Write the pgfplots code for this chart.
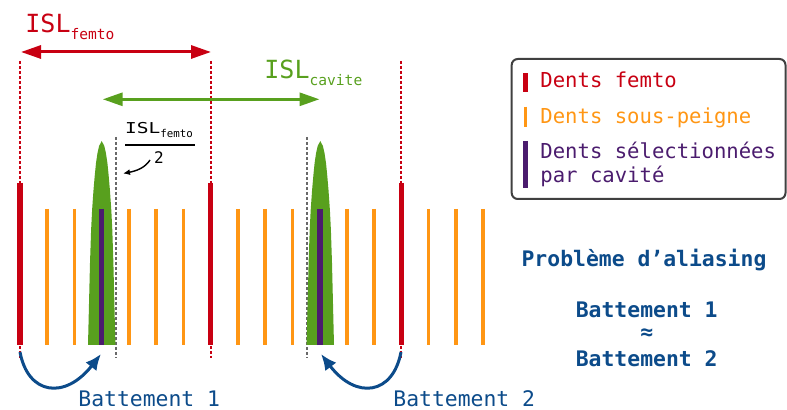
\documentclass[border=0pt]{standalone}
\usepackage{pgfplots}
\pgfplotsset{compat=1.18}
\usepackage{fontspec}
\usepackage{amsmath}
\usetikzlibrary{arrows.meta}
\setmainfont{DejaVu Sans Mono}

\definecolor{cred}{RGB}{200,0,18}
\definecolor{corange}{RGB}{255,150,20}
\definecolor{cpurple}{RGB}{75,28,110}
\definecolor{cgreen}{RGB}{88,160,30}
\definecolor{cblue}{RGB}{12,75,138}
\definecolor{cgray}{RGB}{105,105,105}
\definecolor{cbox}{RGB}{64,64,64}

\begin{document}
\begin{tikzpicture}
\begin{axis}[
    name=ax,
    x=0.5pt, y=0.5pt,
    xmin=0, xmax=787, ymin=0, ymax=410,
    y dir=reverse,
    hide axis,
    clip=false,
    unbounded coords=jump,
]
% reperes pointilles
\addplot[cred, line width=1pt, dash pattern=on 1.5pt off 1pt] coordinates {
    (20,61) (20,358) (20,nan)
    (210.7,61) (210.7,358) (210.7,nan)
    (401.4,61) (401.4,358)
};
\addplot[cgray, line width=1pt, dash pattern=on 1.5pt off 1pt] coordinates {
    (115.7,137) (115.7,358) (115.7,nan)
    (306.7,137) (306.7,358)
};
% dents du sous-peigne
\addplot[corange, line width=1.85pt] coordinates {
    (47.2,209) (47.2,345) (47.2,nan)
    (74.5,209) (74.5,345) (74.5,nan)
    (129.0,209) (129.0,345) (129.0,nan)
    (156.2,209) (156.2,345) (156.2,nan)
    (183.4,209) (183.4,345) (183.4,nan)
    (237.9,209) (237.9,345) (237.9,nan)
    (265.2,209) (265.2,345) (265.2,nan)
    (292.4,209) (292.4,345) (292.4,nan)
    (346.9,209) (346.9,345) (346.9,nan)
    (374.1,209) (374.1,345) (374.1,nan)
    (428.6,209) (428.6,345) (428.6,nan)
    (455.8,209) (455.8,345) (455.8,nan)
    (483.1,209) (483.1,345)
};
% dents femto
\addplot[cred, line width=2.65pt] coordinates {
    (20,183) (20,345) (20,nan)
    (210.7,183) (210.7,345) (210.7,nan)
    (401.4,183) (401.4,345)
};
% modes de la cavite
\addplot[fill=cgreen, draw=none] coordinates {
    (88.0,345) (89.1,300) (90.0,263) (91.1,230) (92.1,210) (93.5,190) (94.8,175)
    (96.0,163) (97.5,153) (99.1,146) (101.7,141) (104.3,146) (105.9,153) (107.4,163)
    (108.6,175) (109.9,190) (111.3,210) (112.3,230) (113.4,263) (114.3,300) (115.4,345)
} -- cycle;
\addplot[fill=cgreen, draw=none] coordinates {
    (306.6,345) (307.7,300) (308.6,263) (309.7,230) (310.7,210) (312.1,190) (313.4,175)
    (314.6,163) (316.1,153) (317.7,146) (320.3,141) (322.9,146) (324.5,153) (326.0,163)
    (327.2,175) (328.5,190) (329.9,210) (330.9,230) (332.0,263) (332.9,300) (334.0,345)
} -- cycle;
% dents selectionnees
\addplot[cpurple, line width=2.75pt] coordinates {
    (101.7,209) (101.7,345) (101.7,nan)
    (319.9,209) (319.9,345)
};

% fleches ISL
\draw[cred, line width=1.5pt, {Triangle[length=10pt,width=6.5pt]}-{Triangle[length=10pt,width=6.5pt]}]
    (21,52) -- (211,52);
\node[cred, anchor=base west, inner sep=0] at (25,32.3)
    {\fontsize{12.5}{14}\selectfont ISL\raisebox{-3.5pt}{\fontsize{7.3}{8}\selectfont femto}};
\draw[cgreen, line width=1.5pt, {Triangle[length=10pt,width=6.5pt]}-{Triangle[length=10pt,width=6.5pt]}]
    (102.7,99.3) -- (319.5,99.3);
\node[cgreen, anchor=base west, inner sep=0] at (264,78.3)
    {\fontsize{12.5}{14}\selectfont ISL\raisebox{-3.5pt}{\fontsize{7.3}{8}\selectfont cavite}};

% ISL_femto / 2
\draw[black, line width=0.65pt] (125,145) -- (195,145);
\node[anchor=base, inner sep=0] at (159,133.3)
    {\scalebox{1.3}[1]{\fontsize{7.5}{9}\selectfont ISL}\raisebox{-2pt}{\fontsize{5.4}{6}\selectfont femto}};
\node[anchor=base, inner sep=0] at (159,163.3) {\fontsize{8}{9}\selectfont 2};
\draw[black, line width=0.7pt, -{Latex[length=3.5pt,width=3pt]}]
    (150,160) .. controls (145,168) and (136,171) .. (123,173.5);

% battements
\draw[cblue, line width=1.5pt, -{Latex[length=8pt,width=7pt]}]
    (20,352) .. controls (28,395) and (65,400) .. (101,354);
\draw[cblue, line width=1.5pt, -{Latex[length=8pt,width=7pt]}]
    (401,352) .. controls (393,395) and (356,400) .. (321,354);
\node[cblue, anchor=base west, inner sep=0] at (78,407)
    {\fontsize{10.7}{12}\selectfont Battement 1};
\node[cblue, anchor=base west, inner sep=0] at (393,407)
    {\fontsize{10.7}{12}\selectfont Battement 2};

% legende
\draw[cbox, line width=1pt, rounded corners=3pt] (511.7,59) rectangle (785.5,199);
\draw[cred, line width=2.4pt] (525.3,73.3) -- (525.3,92.3);
\draw[corange, line width=1.6pt] (525.3,106.7) -- (525.3,126.7);
\draw[cpurple, line width=2.5pt] (525.3,141) -- (525.3,187.7);
\node[cred, anchor=base west, inner sep=0] at (540,87.7)
    {\fontsize{10.3}{12}\selectfont Dents femto};
\node[corange, anchor=base west, inner sep=0] at (540,123.3)
    {\fontsize{10.3}{12}\selectfont Dents sous-peigne};
\node[cpurple, anchor=base west, inner sep=0] at (540,158.3)
    {\fontsize{10.3}{12}\selectfont Dents sélectionnées};
\node[cpurple, anchor=base west, inner sep=0] at (540,183)
    {\fontsize{10.3}{12}\selectfont par cavité};

% conclusion
\node[cblue, anchor=base, inner sep=0] at (644,266.7)
    {\fontsize{10.7}{12}\selectfont\bfseries Problème d’aliasing};
\node[cblue, anchor=base, inner sep=0] at (646.7,318)
    {\fontsize{10.7}{12}\selectfont\bfseries Battement 1};
\node[cblue, anchor=base, inner sep=0] at (646.7,340)
    {\fontsize{10.7}{12}\selectfont\bfseries ≈};
\node[cblue, anchor=base, inner sep=0] at (646.7,366.7)
    {\fontsize{10.7}{12}\selectfont\bfseries Battement 2};
\end{axis}
\pgfresetboundingbox
\path (ax.south west) rectangle (ax.north east);
\end{tikzpicture}
\end{document}
